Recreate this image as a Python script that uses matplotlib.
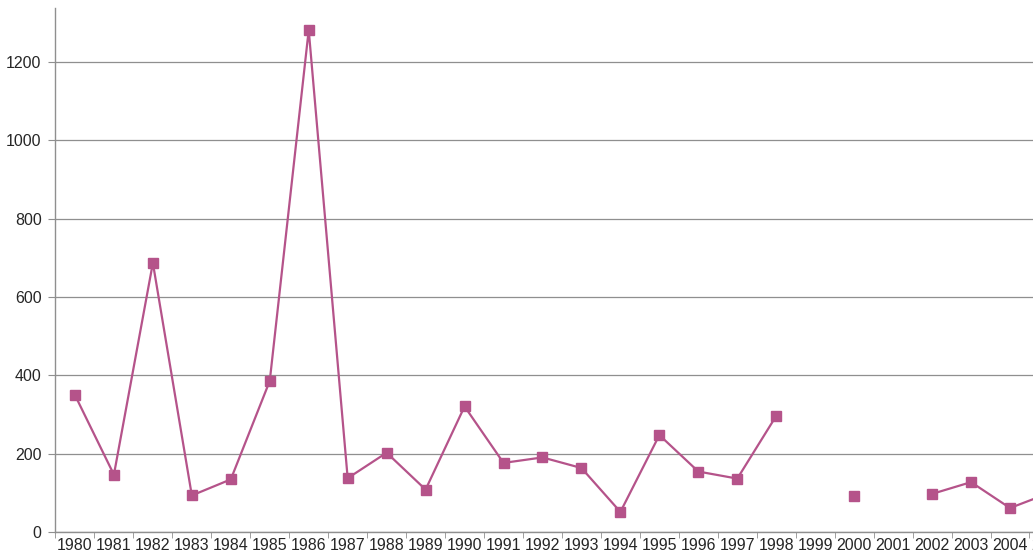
import matplotlib
matplotlib.use("Agg")
import matplotlib.pyplot as plt
import numpy as np
from matplotlib.ticker import FixedLocator, MultipleLocator

# Annual values (None = no data that year)
years = list(range(1980, 2006))
values = [350, 147, 687, 94, 135, 386, 1281, 138, 203, 109,
          321, 177, 191, 164, 52, 248, 155, 137, 297, None,
          92, None, 98, 128, 62, 100]

LINE_COLOR = "#b5538a"
GRID_COLOR = "#8f8f8f"
TEXT_COLOR = "#262626"
FONT_SIZE = 11.5

plt.rcParams["font.family"] = ["Liberation Sans", "DejaVu Sans"]

y = np.array([np.nan if v is None else v for v in values], dtype=float)
x = np.arange(len(years))

fig = plt.figure(figsize=(10.33, 5.57), dpi=100)
ax = fig.add_axes([0.0537, 0.0443, 0.9463, 0.9413])

ax.plot(x, y, color=LINE_COLOR, linewidth=1.6, marker="s", markersize=7,
        markerfacecolor=LINE_COLOR, markeredgecolor=LINE_COLOR, zorder=3)

ax.set_xlim(-0.5, 24.59)
ax.set_ylim(0, 1337)

ax.yaxis.set_major_locator(MultipleLocator(200))
ax.grid(axis="y", color=GRID_COLOR, linewidth=0.9)
ax.set_axisbelow(True)

# category labels centred, tick marks on the category boundaries
ax.set_xticks(x[:-1])
ax.set_xticklabels([str(yr) for yr in years[:-1]])
ax.xaxis.set_minor_locator(FixedLocator(np.arange(-0.5, len(years), 1.0)))
ax.tick_params(axis="x", which="major", length=0, pad=4,
               labelsize=FONT_SIZE, labelcolor=TEXT_COLOR)
ax.tick_params(axis="x", which="minor", length=4, color=GRID_COLOR,
               direction="out")
ax.tick_params(axis="y", length=5, color=GRID_COLOR, pad=5,
               labelsize=FONT_SIZE, labelcolor=TEXT_COLOR)

# last year's label sits past the cropped right edge
ax.text(x[-1], -0.0105, str(years[-1]), transform=ax.get_xaxis_transform(),
        ha="center", va="top", fontsize=FONT_SIZE, color=TEXT_COLOR)

for side in ("top", "right"):
    ax.spines[side].set_visible(False)
for side in ("left", "bottom"):
    ax.spines[side].set_color(GRID_COLOR)
    ax.spines[side].set_linewidth(1.0)

fig.savefig("out.png", dpi=100)
